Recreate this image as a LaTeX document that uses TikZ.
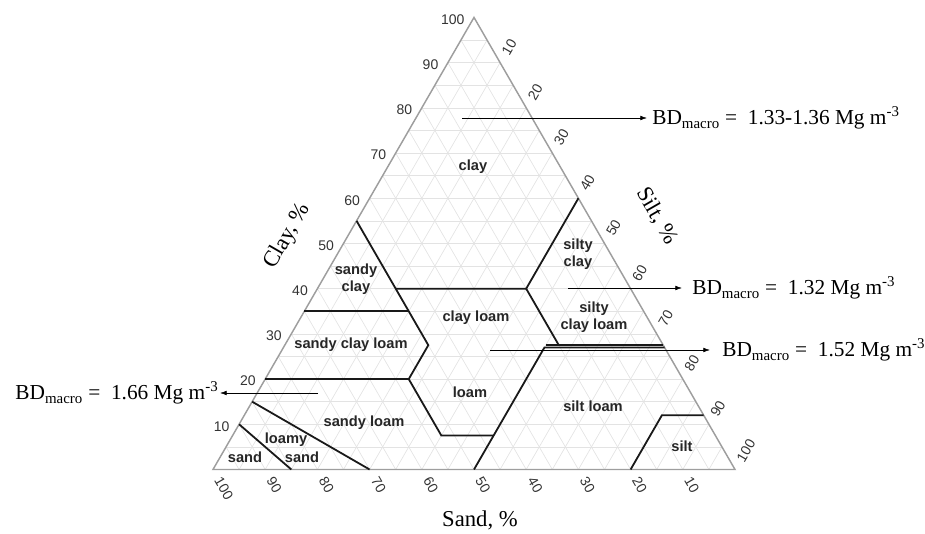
\documentclass[tikz,border=0pt]{standalone}
\usepackage{fontspec}
\setmainfont{Liberation Serif}
\setsansfont{Liberation Sans}
\usetikzlibrary{arrows.meta}
\begin{document}
\begin{tikzpicture}[x=0.75pt,y=-0.75pt,
  gridline/.style={draw=black!11, line width=0.5pt},
  frame/.style={draw=black!38, line width=1.1pt, line join=miter},
  bound/.style={draw=black!90, line width=1.35pt, line join=miter},
  cls/.style={font=\sffamily\bfseries\fontsize{11}{12.5}\selectfont, align=center, inner sep=0pt, text=black!85},
  tick/.style={font=\sffamily\fontsize{10.5}{12}\selectfont, text=black!80, inner sep=0pt},
  axt/.style={font=\fontsize{17}{20}\selectfont, inner sep=0pt},
  bd/.style={font=\fontsize{16}{19}\selectfont, inner ysep=0pt},
  bdarrow/.style={-{Latex[length=5pt,width=3.5pt]}, line width=0.5pt}
]
\useasboundingbox (0,0) rectangle (925,534);
\coordinate (SA) at (213,469.5);
\coordinate (SI) at (735,469.5);
\coordinate (CL) at (474,17.44);

% grid
\foreach \v in {5,10,...,95}{
  \pgfmathsetmacro\a{\v/100}
  \pgfmathsetmacro\b{1-\v/100}
  \draw[gridline] (barycentric cs:SA=\b,SI=0,CL=\a) -- (barycentric cs:SA=0,SI=\b,CL=\a);
  \draw[gridline] (barycentric cs:SA=\b,SI=\a,CL=0) -- (barycentric cs:SA=0,SI=\a,CL=\b);
  \draw[gridline] (barycentric cs:SA=\a,SI=\b,CL=0) -- (barycentric cs:SA=\a,SI=0,CL=\b);
}
\draw[frame] (SA) -- (SI) -- (CL) -- cycle;

% ticks
\foreach \v in {10,20,...,100}{
  \pgfmathsetmacro\a{\v/100}
  \pgfmathsetmacro\b{1-\v/100}
  \node[tick, anchor=east] at ([xshift=-7pt,yshift=-1.5pt]barycentric cs:SA=\b,SI=0,CL=\a) {\v};
  \node[tick, anchor=west, rotate=60] at ([shift={(60:7.5pt)}]barycentric cs:SA=0,SI=\a,CL=\b) {\v};
  \node[tick, anchor=west, rotate=-60] at ([shift={(-60:7.5pt)}]barycentric cs:SA=\a,SI=\b,CL=0) {\v};
}

% class boundaries
\draw[bound] (barycentric cs:SA=.90,SI=0,CL=.10) -- (barycentric cs:SA=.85,SI=.15,CL=0);
\draw[bound] (barycentric cs:SA=.85,SI=0,CL=.15) -- (barycentric cs:SA=.70,SI=.30,CL=0);
\draw[bound] (barycentric cs:SA=.80,SI=0,CL=.20) -- (barycentric cs:SA=.525,SI=.275,CL=.20)
  -- (barycentric cs:SA=.525,SI=.40,CL=.075) -- (barycentric cs:SA=.425,SI=.50,CL=.075);
\draw[bound] (barycentric cs:SA=.525,SI=.275,CL=.20) -- (barycentric cs:SA=.45,SI=.275,CL=.275)
  -- (barycentric cs:SA=.45,SI=0,CL=.55);
\draw[bound] (barycentric cs:SA=.65,SI=0,CL=.35) -- (barycentric cs:SA=.45,SI=.20,CL=.35);
\draw[bound] (barycentric cs:SA=.45,SI=.15,CL=.40) -- (barycentric cs:SA=.20,SI=.40,CL=.40)
  -- (barycentric cs:SA=0,SI=.40,CL=.60);
\draw[bound] (barycentric cs:SA=.20,SI=.40,CL=.40) -- (barycentric cs:SA=.20,SI=.525,CL=.275);
\draw[bound] (barycentric cs:SA=.225,SI=.50,CL=.275) -- (barycentric cs:SA=0,SI=.725,CL=.275);
\draw[bound] (barycentric cs:SA=.50,SI=.50,CL=0) -- (barycentric cs:SA=.23,SI=.50,CL=.27)
  -- (barycentric cs:SA=0,SI=.73,CL=.27);
\draw[bound] (barycentric cs:SA=.20,SI=.80,CL=0) -- (barycentric cs:SA=.08,SI=.80,CL=.12)
  -- (barycentric cs:SA=0,SI=.88,CL=.12);

% class labels
\node[cls] (lclay) at (473,167) {clay};
\node[cls] (lsc) at (356,279) {sandy\\clay};
\node[cls] (lcl) at (476,318) {clay loam};
\node[cls] (lscl) at (351,345) {sandy clay loam};
\node[cls] (lsic) at (578,254) {silty\\clay};
\node[cls] (lsicl) at (594,317) {silty\\clay loam};
\node[cls] (lloam) at (470,392) {loam};
\node[cls] (lsl) at (364,423) {sandy loam};
\node[cls] (lly) at (286,440) {loamy};
\node[cls] (lls) at (302,457) {sand};
\node[cls] (lsand) at (245,457) {sand};
\node[cls] (lsil) at (593,406) {silt loam};
\node[cls] (lsilt) at (682,446) {silt};

% axis titles
\node[axt, rotate=60] (clayt) at (287.5,236) {Clay, \%};
\node[axt, rotate=-60] (siltt) at (657,216) {Silt, \%};
\node[axt] (sandt) at (480,520) {Sand, \%};

% bulk density annotations
\coordinate (a1) at (462,118);
\node[bd, anchor=west, inner xsep=3.75pt] (bd1) at (647,118) {BD\textsubscript{macro} =\ \ 1.33-1.36 Mg m\textsuperscript{-3}};
\draw[bdarrow] (a1) -- (bd1.west);
\coordinate (a2) at (568,288);
\node[bd, anchor=west, inner xsep=7.5pt] (bd2) at (682,288) {BD\textsubscript{macro} =\ \ 1.32 Mg m\textsuperscript{-3}};
\draw[bdarrow] (a2) -- (bd2.west);
\coordinate (a3) at (490,350);
\node[bd, anchor=west, inner xsep=9pt] (bd3) at (710,350) {BD\textsubscript{macro} =\ \ 1.52 Mg m\textsuperscript{-3}};
\draw[bdarrow] (a3) -- (bd3.west);
\coordinate (a4) at (318,393);
\node[bd, anchor=east, inner xsep=1pt] (bd4) at (220,393) {BD\textsubscript{macro} =\ \ 1.66 Mg m\textsuperscript{-3}};
\draw[bdarrow] (a4) -- (bd4.east);
\end{tikzpicture}
\end{document}
